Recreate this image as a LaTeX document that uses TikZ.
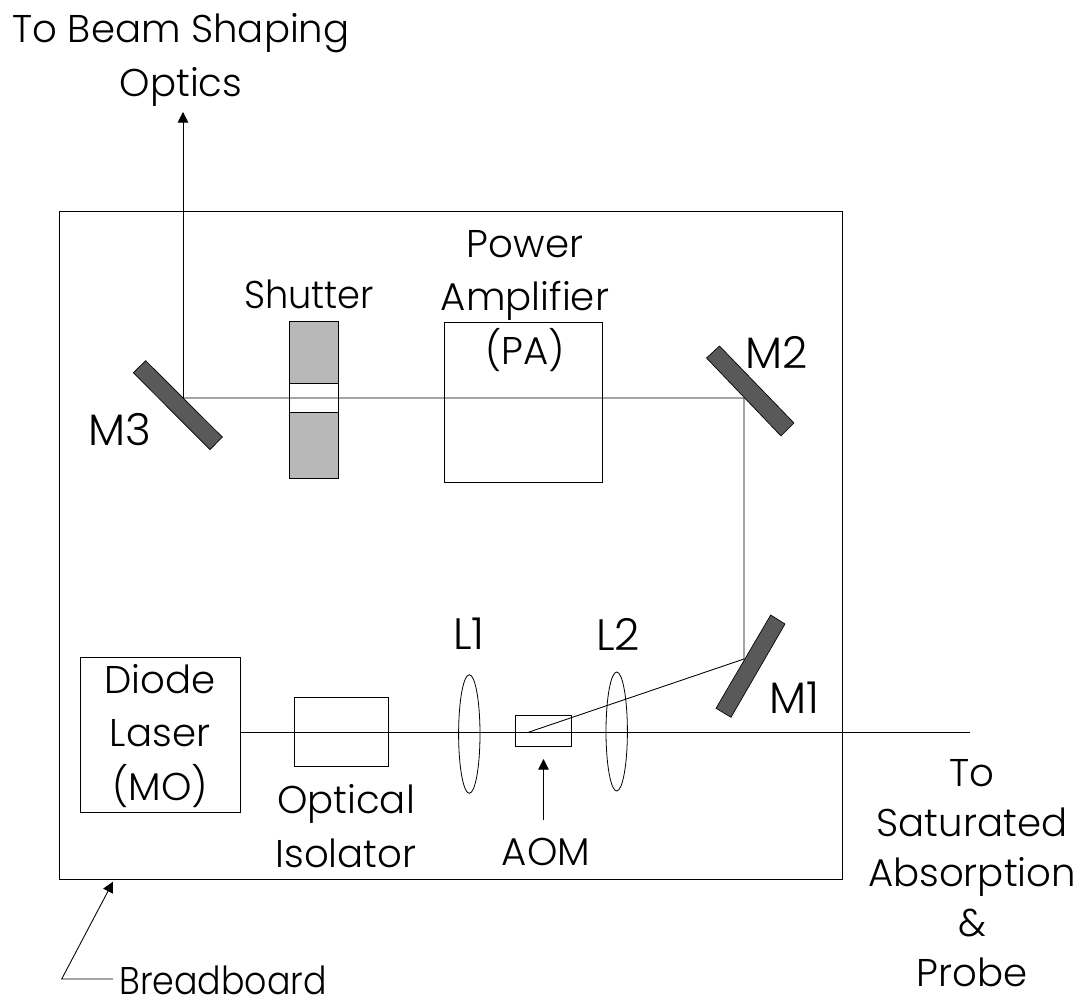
\documentclass[tikz,border=0pt]{standalone}
\usepackage{fontspec}
\setmainfont{Poppins Light}
\usetikzlibrary{arrows.meta}
\definecolor{mirrorgrey}{RGB}{89,89,89}
\definecolor{shuttergrey}{RGB}{184,184,184}
\tikzset{
  box/.style={draw=black,line width=0.65pt,minimum width=#1,inner sep=0pt,outer sep=0pt},
  label/.style={font=\fontsize{29pt}{40pt}\selectfont,align=center,inner sep=0pt,text=black},
  biglabel/.style={label,font=\fontsize{33pt}{40pt}\selectfont},
  sidelabel/.style={label,font=\fontsize{29pt}{37.5pt}\selectfont},
  beam/.style={draw=black,line width=0.65pt},
  tip/.style={-{Triangle[length=8pt,width=8pt]}},
  mirror/.style={draw=black,line width=0.5pt,fill=mirrorgrey},
  lens/.style={line width=0.6pt}
}
\begin{document}
\begin{tikzpicture}[x=0.75pt,y=-0.75pt]
\useasboundingbox (0,0) rectangle (1083,1003);
% boxes
\node[box=587.25pt,minimum height=501pt] (board) at (450.5,545) {};
\node[box=120pt,minimum height=116.25pt] (laser) at (160,734.5) {};
\node[box=70.5pt,minimum height=51.75pt] (iso) at (341,731.5) {};
\node[box=42.3pt,minimum height=23.5pt] (aom) at (543.5,730.7) {};
\node[box=118.5pt,minimum height=120pt] (pa) at (523,402) {};
\node[box=36.75pt,minimum height=117.75pt,fill=shuttergrey] (shut) at (313.8,399.8) {};
\node[box=36.75pt,minimum height=21.5pt,fill=white] (slit) at (313.8,397.7) {};
% lenses
\draw[lens] (469.3,734) ellipse [x radius=10.7,y radius=59.3];
\draw[lens] (616.7,731.5) ellipse [x radius=10.7,y radius=59.5];
% beam points
\coordinate (m1hit) at (744,659);
\coordinate (m2hit) at (744,398);
\coordinate (m3hit) at (183,398);
\coordinate (out3) at (183,112);
\coordinate (laserout) at (240.5,732.3);
\coordinate (aomhit) at (528.3,732.3);
\coordinate (out1) at (970,732.3);
\coordinate (aomfoot) at (543.5,820);
\coordinate (aomtip) at (543.5,759);
\coordinate (bbtip) at (113,881.7);
\coordinate (bbknee) at (61.7,979);
\coordinate (bbend) at (113,979);
% beams
\draw[beam] (laserout) -- (out1);
\draw[beam] (aomhit) -- (m1hit) -- (m2hit) -- (m3hit);
\draw[beam,tip] (m3hit) -- (out3);
\draw[beam,tip] (aomfoot) -- (aomtip);
\draw[beam,tip] (bbend) -- (bbknee) -- (bbtip);
% mirrors
\filldraw[mirror] (770.7,615) -- (785,624) -- (731,717.3) -- (716,708.3) -- cycle;
\filldraw[mirror] (719.5,346) -- (706.5,358) -- (781,436) -- (794,423) -- cycle;
\filldraw[mirror] (145.7,360.7) -- (133.3,372.7) -- (210,449.7) -- (222.3,437) -- cycle;
% labels
\node[label] (t1) at (181,60) {To Beam Shaping\\Optics};
\node[label] (t2) at (525,301) {Power\\Amplifier\\(PA)};
\node[label] (t3) at (309,294) {\scalebox{0.95}[1]{Shutter}};
\node[biglabel] (t4) at (777,352) {M2};
\node[biglabel] (t5) at (120,430) {M3};
\node[biglabel] (t6) at (469,634) {L1};
\node[biglabel] (t7) at (618,634) {L2};
\node[biglabel] (t8) at (794,698) {M1};
\node[label] (t9) at (160,736) {Diode\\Laser\\(MO)};
\node[label] (t10) at (346,826) {Optical\\Isolator};
\node[label] (t11) at (546,852) {AOM};
\node[sidelabel] (t12) at (972,873) {To\\Saturated\\Absorption\\\&\\Probe};
\node[label] (t13) at (223,980) {\scalebox{0.9}[1]{Breadboard}};
\end{tikzpicture}
\end{document}
